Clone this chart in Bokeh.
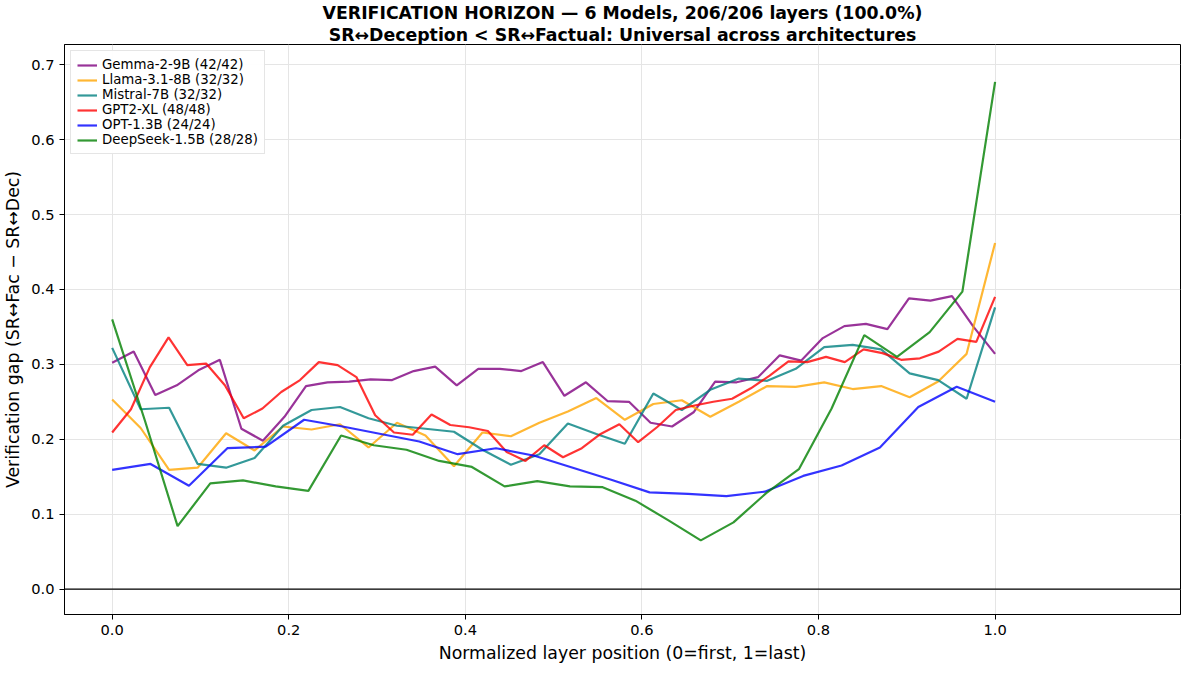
from bokeh.plotting import figure
from bokeh.models import Range1d, Span, Legend, LegendItem, Title, CustomJSTickFormatter
from bokeh.embed import file_html
from bokeh.resources import INLINE

names = ["Gemma-2-9B (42/42)", "Llama-3.1-8B (32/32)", "Mistral-7B (32/32)",
         "GPT2-XL (48/48)", "OPT-1.3B (24/24)", "DeepSeek-1.5B (28/28)"]
colors = ["purple", "orange", "teal", "red", "blue", "green"]

gemma = [0.302, 0.317, 0.259, 0.272, 0.292, 0.306, 0.214, 0.198, 0.230, 0.271, 0.276, 0.277, 0.280, 0.279,
         0.291, 0.297, 0.272, 0.294, 0.294, 0.291, 0.303, 0.258, 0.276, 0.251, 0.250, 0.222, 0.217, 0.236,
         0.277, 0.276, 0.283, 0.312, 0.305, 0.335, 0.351, 0.354, 0.347, 0.388, 0.385, 0.391, 0.350, 0.314]
llama = [0.253, 0.215, 0.159, 0.162, 0.208, 0.185, 0.217, 0.213, 0.220, 0.189, 0.222, 0.205, 0.164, 0.209,
         0.204, 0.222, 0.237, 0.255, 0.226, 0.247, 0.252, 0.230, 0.250, 0.271, 0.270, 0.276, 0.267, 0.271,
         0.256, 0.277, 0.314, 0.462]
mistral = [0.322, 0.240, 0.242, 0.167, 0.162, 0.175, 0.218, 0.239, 0.243, 0.228, 0.218, 0.214, 0.210, 0.186,
           0.166, 0.180, 0.221, 0.207, 0.194, 0.261, 0.239, 0.266, 0.281, 0.278, 0.294, 0.323, 0.326, 0.320,
           0.288, 0.279, 0.254, 0.376]
gpt2 = [0.209, 0.240, 0.296, 0.336, 0.299, 0.301, 0.272, 0.228, 0.241, 0.263, 0.279, 0.303, 0.299, 0.283,
        0.232, 0.209, 0.206, 0.233, 0.219, 0.216, 0.211, 0.183, 0.171, 0.192, 0.176, 0.188, 0.207, 0.220,
        0.196, 0.216, 0.239, 0.245, 0.250, 0.254, 0.268, 0.285, 0.304, 0.303, 0.310, 0.303, 0.320, 0.315,
        0.306, 0.308, 0.317, 0.334, 0.330, 0.390]
opt = [0.159, 0.167, 0.138, 0.188, 0.190, 0.226, 0.217, 0.207, 0.197, 0.180, 0.188, 0.178, 0.162, 0.146,
       0.129, 0.127, 0.124, 0.130, 0.151, 0.165, 0.189, 0.243, 0.270, 0.250]
deepseek = [0.360, 0.225, 0.084, 0.141, 0.145, 0.137, 0.131, 0.205, 0.192, 0.186, 0.171, 0.163, 0.137, 0.144,
            0.137, 0.136, 0.118, 0.092, 0.065, 0.089, 0.128, 0.160, 0.241, 0.339, 0.310, 0.343, 0.397, 0.677]
series = [gemma, llama, mistral, gpt2, opt, deepseek]

p = figure(width=1184, height=665, output_backend="svg", toolbar_location=None,
           x_range=Range1d(-0.054, 1.21), y_range=Range1d(-0.034, 0.727))
p.title.visible = False
for t in ["SR↔Deception < SR↔Factual: Universal across architectures",
          "VERIFICATION HORIZON — 6 Models, 206/206 layers (100.0%)"]:
    p.add_layout(Title(text=t, align="center", text_font_size="13pt", text_font_style="bold",
                       text_font="DejaVu Sans", text_color="black", standoff=0, offset=0), "above")

items = []
for nm, c, ys in zip(names, colors, series):
    n = len(ys)
    xs = [i / (n - 1) for i in range(n)]
    r = p.line(xs, ys, line_color=c, line_width=2.2, line_alpha=0.8)
    items.append(LegendItem(label=nm, renderers=[r]))

p.add_layout(Span(location=0, dimension="width", line_color="black", line_width=1.2))
leg = Legend(items=items, location="top_left", label_text_font="DejaVu Sans", label_text_font_size="10pt",
             border_line_color="#cccccc", spacing=0, padding=6, label_height=14, glyph_height=14,
             margin=6, label_text_color="black")
p.add_layout(leg)

p.xaxis.axis_label = "Normalized layer position (0=first, 1=last)"
p.yaxis.axis_label = "Verification gap (SR↔Fac − SR↔Dec)"
for ax in (p.xaxis, p.yaxis):
    ax.axis_label_text_font = "DejaVu Sans"
    ax.axis_label_text_font_style = "normal"
    ax.axis_label_text_font_size = "13pt"
    ax.axis_label_text_color = "black"
    ax.major_label_text_font = "DejaVu Sans"
    ax.major_label_text_font_size = "11pt"
    ax.major_label_text_color = "black"
    ax.minor_tick_line_color = None
    ax.major_tick_out = 5
    ax.major_tick_in = 0
    ax.axis_line_color = "black"
    ax.major_tick_line_color = "black"
p.xaxis.ticker = [0, 0.2, 0.4, 0.6, 0.8, 1.0]
p.yaxis.ticker = [0, 0.1, 0.2, 0.3, 0.4, 0.5, 0.6, 0.7]
p.xaxis.formatter = CustomJSTickFormatter(code="return tick.toFixed(1)")
p.yaxis.formatter = CustomJSTickFormatter(code="return tick.toFixed(1)")
p.grid.grid_line_color = "#e5e5e5"
p.outline_line_color = "black"
p.min_border_right = 4

open("out.html", "w").write(file_html(p, INLINE))
